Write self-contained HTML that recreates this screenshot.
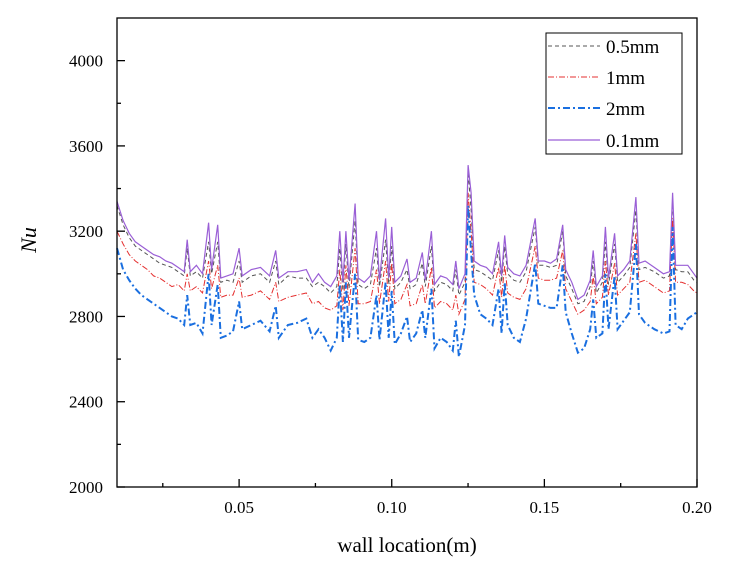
<!DOCTYPE html>
<html><head><meta charset="utf-8"><style>
body{margin:0;background:#fff;}
svg text{font-family:"Liberation Serif",serif;fill:#000;}
</style></head><body>
<svg id="chart" width="731" height="572" viewBox="0 0 731 572">
<rect x="0" y="0" width="731" height="572" fill="#fff"/>
<g id="marks"></g>
<rect x="117" y="18" width="580" height="469" fill="none" stroke="#000" stroke-width="1.3"/>
<g id="axes"></g>
<text x="36" y="240" font-size="22" font-style="italic" text-anchor="middle" transform="rotate(-90 36 240)">Nu</text>
<text x="407" y="552" font-size="21" text-anchor="middle">wall location(m)</text>
<g>
<rect x="546" y="33" width="136" height="121" fill="#fff" stroke="#000" stroke-width="1"/>
<line x1="548" y1="46" x2="600" y2="46" stroke="#555" stroke-width="1" stroke-dasharray="4,3"/>
<text x="606" y="53" font-size="19">0.5mm</text>
<line x1="548" y1="77" x2="600" y2="77" stroke="#e53030" stroke-width="1" stroke-dasharray="6,2,1,2"/>
<text x="606" y="84" font-size="19">1mm</text>
<line x1="548" y1="108" x2="600" y2="108" stroke="#1a6fe0" stroke-width="2" stroke-dasharray="7,3,2,3"/>
<text x="606" y="115" font-size="19">2mm</text>
<line x1="548" y1="140" x2="600" y2="140" stroke="#9a5fd6" stroke-width="1.2"/>
<text x="606" y="147" font-size="19">0.1mm</text>
</g>
</svg>
<script>
const xs=[0.010,0.012,0.014,0.016,0.018,0.020,0.022,0.024,0.026,0.028,0.030,0.032,0.033,0.034,0.036,0.038,0.040,0.041,0.043,0.044,0.046,0.048,0.050,0.051,0.054,0.057,0.060,0.062,0.063,0.066,0.069,0.072,0.074,0.076,0.078,0.080,0.082,0.083,0.084,0.085,0.086,0.088,0.089,0.091,0.093,0.095,0.096,0.098,0.099,0.100,0.101,0.103,0.105,0.106,0.108,0.110,0.111,0.113,0.114,0.116,0.118,0.120,0.121,0.122,0.124,0.125,0.126,0.127,0.129,0.131,0.133,0.135,0.136,0.137,0.138,0.140,0.142,0.144,0.147,0.148,0.150,0.152,0.154,0.156,0.157,0.159,0.161,0.163,0.165,0.166,0.167,0.169,0.170,0.171,0.173,0.174,0.176,0.178,0.180,0.181,0.183,0.186,0.189,0.191,0.192,0.193,0.195,0.197,0.199,0.200];
const nu01=[3340,3250,3190,3150,3130,3110,3090,3080,3060,3050,3030,3010,3160,3010,3040,3000,3240,3020,3230,2980,2990,3000,3120,2990,3020,3030,2990,3110,2980,3010,3010,3020,2960,3000,2960,2940,2990,3200,2960,3200,2970,3330,2980,2960,2990,3200,2970,3260,2980,3220,2960,2990,3070,2960,2980,3100,2970,3200,2950,2990,2980,2950,3060,2930,3000,3510,3380,3060,3040,3030,3000,3150,2990,3180,3030,3000,2990,3040,3260,3060,3060,3050,3070,3230,3020,2960,2880,2900,2970,3110,2940,2990,3220,2980,3190,2990,3020,3060,3360,3050,3060,3030,3000,3010,3380,3040,3040,3040,3000,2980];
const nu05=[3320,3230,3170,3130,3110,3090,3070,3050,3040,3030,3010,2990,3120,2990,3010,2980,3150,3000,3150,2960,2970,2960,3060,2960,2990,3000,2960,3060,2950,2990,2980,2980,2940,2960,2940,2910,2940,3120,2920,3140,2930,3250,2950,2930,2950,3120,2940,3160,2950,3130,2930,2960,3020,2930,2950,3050,2940,3130,2920,2960,2950,2920,3020,2900,2960,3480,3300,3020,3010,2990,2970,3110,2960,3130,3000,2970,2960,3010,3220,3040,3040,3030,3040,3200,2990,2930,2860,2870,2940,3060,2910,2960,3150,2950,3140,2960,2990,3030,3300,3020,3030,3010,2980,2990,3350,3020,3010,3010,2970,2960];
const nu1=[3200,3140,3090,3060,3040,3020,2990,2980,2960,2940,2950,2920,3000,2920,2940,2910,3060,2930,3040,2890,2900,2900,2980,2890,2900,2920,2880,2960,2870,2890,2900,2910,2860,2870,2840,2830,2850,3020,2830,3040,2850,3120,2860,2860,2870,3020,2860,3060,2870,3050,2860,2880,2950,2850,2860,2950,2860,3030,2840,2870,2860,2830,2900,2810,2880,3380,3200,2960,2950,2930,2900,3030,2890,3040,2910,2890,2880,2930,3130,2980,2970,2970,2980,3110,2930,2870,2810,2830,2870,2990,2860,2890,3060,2900,3050,2900,2930,2960,3190,2960,2970,2940,2910,2920,3260,2960,2960,2950,2920,2910];
const nu2=[3120,3020,2970,2930,2900,2880,2860,2840,2820,2800,2790,2760,2900,2760,2770,2720,3000,2760,2950,2700,2710,2730,2870,2740,2760,2780,2730,2850,2700,2760,2770,2790,2700,2740,2700,2640,2700,2950,2680,2960,2700,3000,2690,2680,2700,2900,2690,2960,2700,2920,2670,2720,2800,2680,2720,2830,2700,2930,2650,2700,2680,2640,2780,2610,2760,3320,3100,2900,2810,2790,2760,2930,2720,2960,2760,2700,2680,2790,3050,2860,2850,2840,2840,3040,2820,2720,2630,2650,2740,2880,2700,2720,3000,2740,2990,2740,2780,2820,3140,2810,2770,2740,2720,2730,3220,2760,2740,2790,2810,2820];
const xTicks=[0.05,0.10,0.15,0.20];
const xTickLabels=["0.05","0.10","0.15","0.20"];
const yTicks=[2000,2400,2800,3200,3600,4000];
const yTickLabels=["2000","2400","2800","3200","3600","4000"];
const xMin=0.01,xMax=0.20,yMin=2000,yMax=4200;
const L=117,R=697,T=18,B=487;
function sx(v){return L+(v-xMin)/(xMax-xMin)*(R-L);}
function sy(v){return B-(v-yMin)/(yMax-yMin)*(B-T);}
const NS="http://www.w3.org/2000/svg";
const marks=document.getElementById('marks');
const series=[
 {ys:nu05,name:'series-0.5mm',c:'#555',w:1,d:'4,3'},
 {ys:nu1,name:'series-1mm',c:'#e53030',w:1,d:'6,2,1,2'},
 {ys:nu2,name:'series-2mm',c:'#1a6fe0',w:2,d:'7,3,2,3'},
 {ys:nu01,name:'series-0.1mm',c:'#9a5fd6',w:1.2,d:''}
];
series.forEach(s=>{
 const p=document.createElementNS(NS,'polyline');
 p.setAttribute('points',xs.map((x,i)=>sx(x).toFixed(1)+','+sy(s.ys[i]).toFixed(1)).join(' '));
 p.setAttribute('fill','none');p.setAttribute('stroke',s.c);p.setAttribute('stroke-width',s.w);
 if(s.d)p.setAttribute('stroke-dasharray',s.d);
 
 
 marks.appendChild(p);
});
const axes=document.getElementById('axes');
function ln(x1,y1,x2,y2,nm){const l=document.createElementNS(NS,'line');l.setAttribute('x1',x1);l.setAttribute('y1',y1);l.setAttribute('x2',x2);l.setAttribute('y2',y2);l.setAttribute('stroke','#000');l.setAttribute('stroke-width','1.3');
 
 
 axes.appendChild(l);}
function tx(x,y,s,anchor,nm){const t=document.createElementNS(NS,'text');t.setAttribute('x',x);t.setAttribute('y',y);t.setAttribute('font-size','17');t.setAttribute('text-anchor',anchor);t.textContent=s;
 
 
 axes.appendChild(t);}
xTicks.forEach((v,i)=>{ln(sx(v),B,sx(v),B-8,'x-tick');tx(sx(v),513,xTickLabels[i],'middle','x-tick-label');});
xTicks.forEach(v=>{const m=v-0.025;if(m>xMin)ln(sx(m),B,sx(m),B-4,'x-minor-tick');});
yTicks.forEach((v,i)=>{ln(L,sy(v),L+8,sy(v),'y-tick');tx(103,sy(v)+6,yTickLabels[i],'end','y-tick-label');});
yTicks.forEach(v=>{const m=v+200;if(m<yMax)ln(L,sy(m),L+4,sy(m),'y-minor-tick');});
</script>
</body></html>
